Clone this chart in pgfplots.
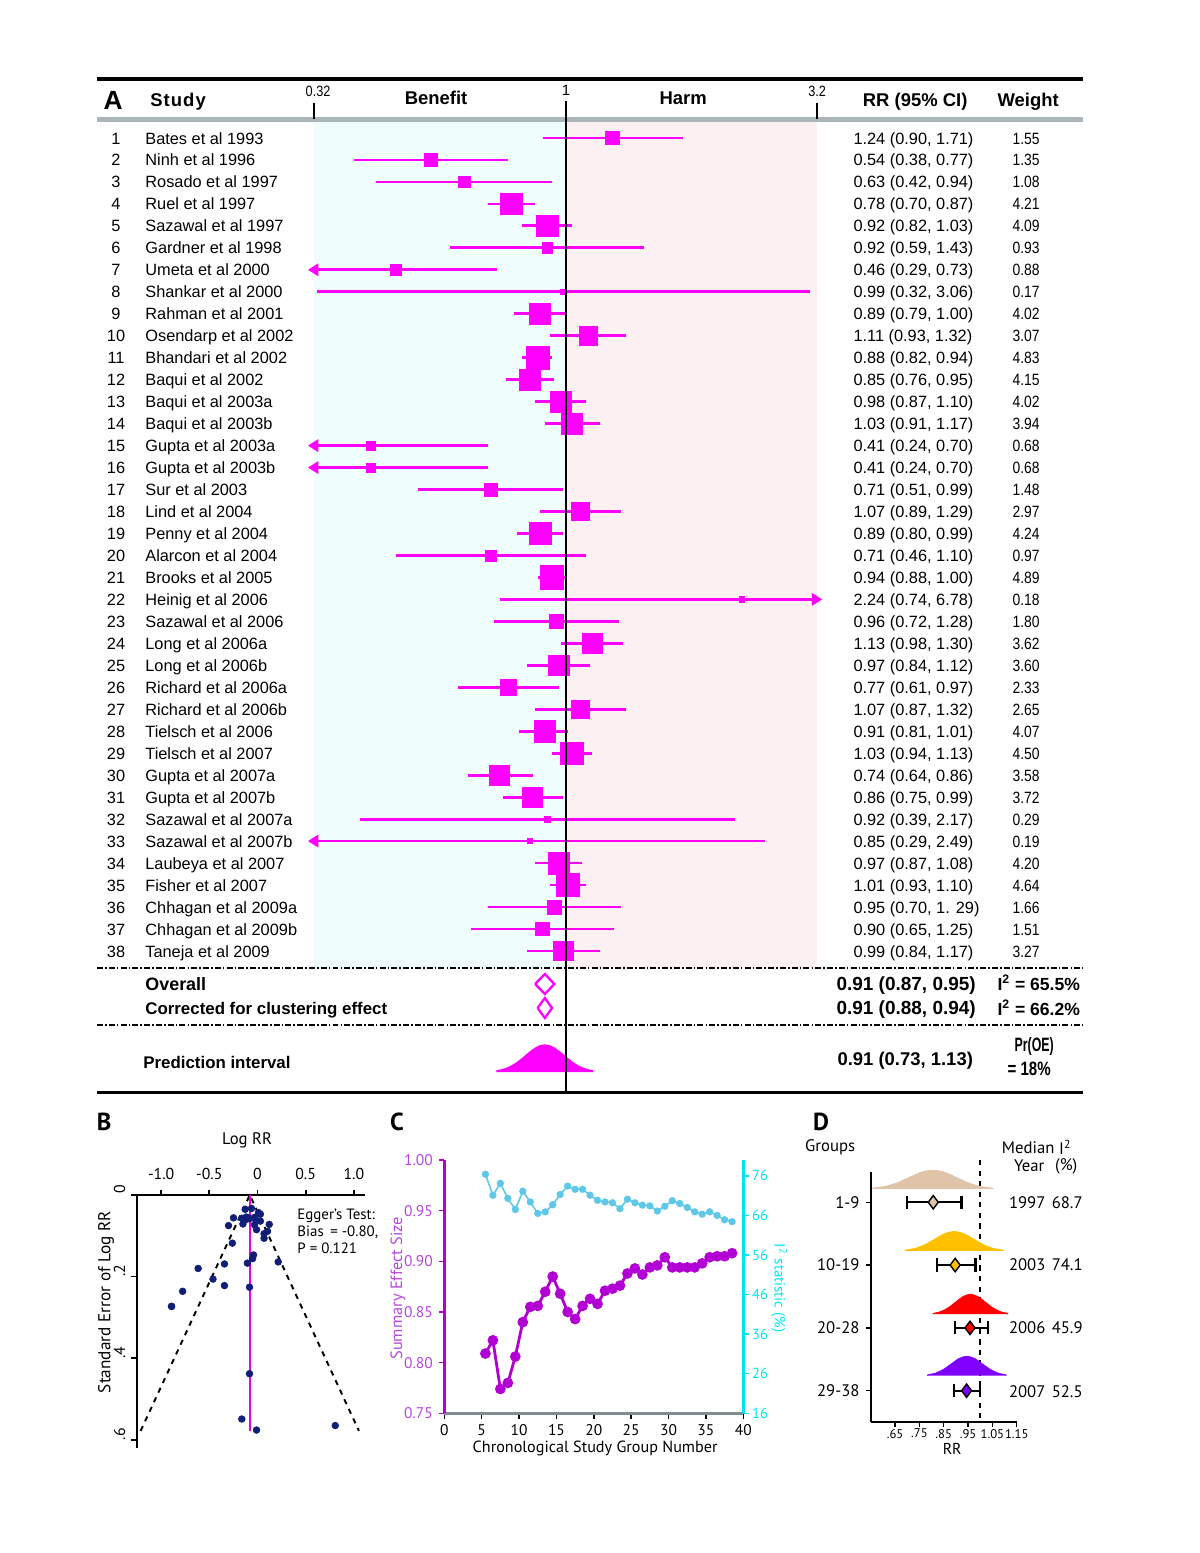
\documentclass[border=0pt]{standalone}
\usepackage{fontspec}
\setmainfont{Liberation Sans}
\newfontfamily\pt{PT Sans}
\usepackage{graphicx}
\usepackage{pgfplots}
\pgfplotsset{compat=1.18}
\usepackage{pgfplotstable}
\usetikzlibrary{arrows.meta}

\definecolor{mag}{RGB}{255,0,255}
\definecolor{cybg}{RGB}{240,253,253}
\definecolor{pkbg}{RGB}{253,240,242}
\definecolor{greyline}{RGB}{170,182,186}
\definecolor{navy}{RGB}{16,30,120}
\definecolor{pinkB}{RGB}{230,0,230}
\definecolor{purpC}{RGB}{178,0,212}
\definecolor{purpCt}{RGB}{184,70,222}
\definecolor{cyanL}{RGB}{95,200,232}
\definecolor{cyanA}{RGB}{0,230,240}
\definecolor{greyC}{RGB}{128,140,142}
\definecolor{tanD}{RGB}{224,196,170}
\definecolor{goldD}{RGB}{255,192,0}
\definecolor{redD}{RGB}{255,0,0}
\definecolor{violD}{RGB}{128,0,255}

\newcommand{\fA}{\fontsize{9.3}{11}\selectfont}
\newcommand{\fH}{\bfseries\fontsize{10.5}{12}\selectfont}

\pgfplotstableread{
row rr lo hi w
1 1.24 0.90 1.71 1.55
2 0.54 0.38 0.77 1.35
3 0.63 0.42 0.94 1.08
4 0.78 0.70 0.87 4.21
5 0.92 0.82 1.03 4.09
6 0.92 0.59 1.43 0.93
7 0.46 0.29 0.73 0.88
8 0.99 0.32 3.06 0.17
9 0.89 0.79 1.00 4.02
10 1.11 0.93 1.32 3.07
11 0.88 0.82 0.94 4.83
12 0.85 0.76 0.95 4.15
13 0.98 0.87 1.10 4.02
14 1.03 0.91 1.17 3.94
15 0.41 0.24 0.70 0.68
16 0.41 0.24 0.70 0.68
17 0.71 0.51 0.99 1.48
18 1.07 0.89 1.29 2.97
19 0.89 0.80 0.99 4.24
20 0.71 0.46 1.10 0.97
21 0.94 0.88 1.00 4.89
22 2.24 0.74 6.78 0.18
23 0.96 0.72 1.28 1.80
24 1.13 0.98 1.30 3.62
25 0.97 0.84 1.12 3.60
26 0.77 0.61 0.97 2.33
27 1.07 0.87 1.32 2.65
28 0.91 0.81 1.01 4.07
29 1.03 0.94 1.13 4.50
30 0.74 0.64 0.86 3.58
31 0.86 0.75 0.99 3.72
32 0.92 0.39 2.17 0.29
33 0.85 0.29 2.49 0.19
34 0.97 0.87 1.08 4.20
35 1.01 0.93 1.10 4.64
36 0.95 0.70 1.29 1.66
37 0.90 0.65 1.25 1.51
38 0.99 0.84 1.17 3.27
}\forestdata

\pgfplotstableread{
lnrr se
0.215 -0.164
-0.616 -0.180
-0.462 -0.206
-0.249 -0.056
-0.083 -0.058
-0.083 -0.226
-0.777 -0.236
-0.010 -0.576
-0.117 -0.060
0.104 -0.089
-0.128 -0.035
-0.163 -0.057
-0.020 -0.060
0.030 -0.064
-0.892 -0.273
-0.892 -0.273
-0.343 -0.169
0.068 -0.095
-0.117 -0.054
-0.343 -0.222
-0.062 -0.033
0.807 -0.565
-0.041 -0.147
0.122 -0.072
-0.031 -0.073
-0.261 -0.118
0.068 -0.106
-0.094 -0.056
0.030 -0.047
-0.301 -0.075
-0.151 -0.071
-0.083 -0.438
-0.163 -0.549
-0.031 -0.055
0.010 -0.043
-0.051 -0.156
-0.105 -0.167
-0.010 -0.085
}\funneldata

\pgfplotstableread{
x es i2
5.5 0.809 76.4
6.5 0.822 71.1
7.5 0.774 74.1
8.5 0.780 70.3
9.5 0.806 67.5
10.5 0.840 72.1
11.5 0.855 69.4
12.5 0.856 66.5
13.5 0.870 66.9
14.5 0.885 68.7
15.5 0.868 71.3
16.5 0.850 73.4
17.5 0.843 72.6
18.5 0.856 72.6
19.5 0.863 71.1
20.5 0.858 69.8
21.5 0.871 69.4
22.5 0.873 69.2
23.5 0.876 67.7
24.5 0.888 70.1
25.5 0.893 69.2
26.5 0.887 68.6
27.5 0.894 68.4
28.5 0.896 67.1
29.5 0.904 68.3
30.5 0.894 69.7
31.5 0.894 69.0
32.5 0.894 68.0
33.5 0.894 66.9
34.5 0.898 66.3
35.5 0.904 66.9
36.5 0.905 66.0
37.5 0.905 64.9
38.5 0.908 64.4
}\cumdata

\begin{document}
\begin{tikzpicture}
\path[use as bounding box] (0,0) rectangle (24cm,31.06cm);

% ---------- backgrounds of panel A (pixel coordinates)
\begin{scope}[x=0.02cm,y=-0.02cm,shift={(0,31.06cm)}]
\fill[cybg] (314,121) rectangle (565.5,968);
\fill[pkbg] (565.5,121) rectangle (817,968);
\end{scope}

% ---------- Panel A: forest plot
\begin{axis}[at={(6.28cm,9.22cm)}, anchor=south west, scale only axis,
  width=10.06cm, height=20.28cm, xmode=log, xmin=0.31623, xmax=3.1623,
  ymin=-1.731, ymax=44.42, y dir=reverse, hide axis, clip=false]
\addplot[mag, line width=1.6pt, unbounded coords=jump] coordinates {
(0.90,1) (1.71,1) (nan,nan)
(0.38,2) (0.77,2) (nan,nan)
(0.42,3) (0.94,3) (nan,nan)
(0.70,4) (0.87,4) (nan,nan)
(0.82,5) (1.03,5) (nan,nan)
(0.59,6) (1.43,6) (nan,nan)
(0.32,8) (3.06,8) (nan,nan)
(0.79,9) (1.00,9) (nan,nan)
(0.93,10) (1.32,10) (nan,nan)
(0.82,11) (0.94,11) (nan,nan)
(0.76,12) (0.95,12) (nan,nan)
(0.87,13) (1.10,13) (nan,nan)
(0.91,14) (1.17,14) (nan,nan)
(0.51,17) (0.99,17) (nan,nan)
(0.89,18) (1.29,18) (nan,nan)
(0.80,19) (0.99,19) (nan,nan)
(0.46,20) (1.10,20) (nan,nan)
(0.88,21) (1.00,21) (nan,nan)
(0.72,23) (1.28,23) (nan,nan)
(0.98,24) (1.30,24) (nan,nan)
(0.84,25) (1.12,25) (nan,nan)
(0.61,26) (0.97,26) (nan,nan)
(0.87,27) (1.32,27) (nan,nan)
(0.81,28) (1.01,28) (nan,nan)
(0.94,29) (1.13,29) (nan,nan)
(0.64,30) (0.86,30) (nan,nan)
(0.75,31) (0.99,31) (nan,nan)
(0.39,32) (2.17,32) (nan,nan)
(0.87,34) (1.08,34) (nan,nan)
(0.93,35) (1.10,35) (nan,nan)
(0.70,36) (1.29,36) (nan,nan)
(0.65,37) (1.25,37) (nan,nan)
(0.84,38) (1.17,38)
};
\addplot[mag, line width=1.6pt, -{Triangle[length=6pt,width=7pt]}] coordinates {(0.73,7) (0.3075,7)};
\addplot[mag, line width=1.6pt, -{Triangle[length=6pt,width=7pt]}] coordinates {(0.70,15) (0.3075,15)};
\addplot[mag, line width=1.6pt, -{Triangle[length=6pt,width=7pt]}] coordinates {(0.70,16) (0.3075,16)};
\addplot[mag, line width=1.6pt, -{Triangle[length=6pt,width=7pt]}] coordinates {(0.74,22) (3.24,22)};
\addplot[mag, line width=1.6pt, -{Triangle[length=6pt,width=7pt]}] coordinates {(2.49,33) (0.3075,33)};
\addplot[scatter, only marks, mark=square*,
  scatter/use mapped color={draw=mag,fill=mag},
  visualization depends on={0.3+2.85*sqrt(\thisrow{w}) \as \ms},
  scatter/@pre marker code/.append style={/tikz/mark size=\ms pt, /tikz/draw=mag, /tikz/fill=mag}]
  table[x=rr,y=row] {\forestdata};
% summary diamonds
\addplot[mag, line width=1.3pt] coordinates {(0.87,39.505) (0.91,39.05) (0.95,39.505) (0.91,39.96) (0.87,39.505)};
\addplot[mag, line width=1.3pt] coordinates {(0.88,40.597) (0.91,40.142) (0.94,40.597) (0.91,41.052) (0.88,40.597)};
% prediction interval density
\addplot[fill=mag, draw=mag, line width=0.8pt] coordinates {
(0.7311,43.51) (0.7311,43.456) (0.7472,43.412) (0.7638,43.344) (0.7807,43.244)
(0.7980,43.111) (0.8157,42.947) (0.8337,42.764) (0.8522,42.582) (0.8710,42.425)
(0.8903,42.318) (0.9099,42.28) (0.9300,42.318) (0.9506,42.425) (0.9716,42.582)
(0.9931,42.764) (1.0151,42.947) (1.0375,43.111) (1.0605,43.244) (1.0839,43.344)
(1.1079,43.412) (1.1324,43.456) (1.1324,43.51)};
\end{axis}

% ---------- Panel B: funnel plot
\begin{axis}[at={(2.734cm,2.10cm)}, anchor=south west, scale only axis,
  width=4.566cm, height=5.06cm, xmin=-1.254, xmax=1.116, ymin=-0.62, ymax=0,
  axis x line=top, axis y line=left, axis line style={-, line width=1.3pt},
  xtick={-1,-0.5,0,0.5,1}, xticklabels={-1.0,-0.5,0,0.5,1.0},
  ytick={0,-0.2,-0.4,-0.6}, yticklabels={0,.2,.4,.6},
  yticklabel style={rotate=90, anchor=south, xshift=3.2pt},
  xticklabel style={yshift=2pt},
  tick align=outside, major tick length=3pt, tick style={black, line width=1pt},
  tick label style={font=\pt\fontsize{9}{10}\selectfont},
  clip=false]
\addplot[black, dashed, line width=1.1pt] coordinates {(-1.213,-0.578) (-0.08,0) (1.053,-0.578)};
\addplot[pinkB, line width=1.1pt] coordinates {(-0.08,0) (-0.08,-0.578)};
\addplot[only marks, mark=*, mark size=1.9pt, mark options={draw=navy, fill=navy}] table[x=lnrr, y=se] {\funneldata};
\end{axis}

% ---------- Panel C: cumulative meta-analysis (left axis)
\begin{axis}[at={(8.886cm,2.794cm)}, anchor=south west, scale only axis,
  width=5.98cm, height=5.066cm, xmin=0, xmax=40, ymin=0.75, ymax=1.0,
  axis x line=bottom, axis y line=left, axis line style={-},
  x axis line style={line width=2pt, draw=greyC},
  y axis line style={line width=2pt, draw=purpC},
  xtick={0,5,10,15,20,25,30,35,40}, ytick={0.75,0.8,0.85,0.9,0.95,1.0},
  tick align=outside, major tick length=3pt,
  xtick style={black, line width=0.8pt}, ytick style={purpC, line width=0.8pt},
  /pgf/number format/assume math mode=true,
  tick label style={font=\pt\fontsize{8.8}{10}\selectfont},
  yticklabel style={text=purpCt, /pgf/number format/.cd, fixed, fixed zerofill, precision=2},
  clip=false]
\addplot[purpC, line width=1.6pt, mark=*, mark size=2.2pt, mark options={fill=purpC}] table[x=x, y=es] {\cumdata};
\end{axis}
% Panel C right axis
\begin{axis}[at={(8.886cm,2.794cm)}, anchor=south west, scale only axis,
  width=5.98cm, height=5.066cm, xmin=0, xmax=40, ymin=16, ymax=80,
  axis x line=none, axis y line=right, axis line style={-},
  y axis line style={line width=2pt, draw=cyanA},
  ytick={16,26,36,46,56,66,76},
  tick align=outside, major tick length=3pt, ytick style={cyanA, line width=0.8pt},
  /pgf/number format/assume math mode=true,
  tick label style={font=\pt\fontsize{8.3}{10}\selectfont, text=cyanA},
  yticklabel style={xshift=-1.5pt},
  clip=false]
\addplot[cyanL, line width=0.9pt, mark=*, mark size=1.6pt, mark options={fill=cyanL}] table[x=x, y=i2] {\cumdata};
\end{axis}

% ---------- Panel D: subgroup forest
\begin{axis}[at={(17.42cm,2.626cm)}, anchor=south west, scale only axis,
  width=2.914cm, height=5.0cm, xmin=0.551, xmax=1.15, ymin=-4.494, ymax=-0.513,
  axis x line=bottom, axis y line=left, axis line style={-, line width=1.2pt},
  xtick={0.65,0.75,0.85,0.95,1.05,1.15}, xticklabels={.65,.75,.85,.95,1.05,1.15},
  ytick={-1,-2,-3,-4}, yticklabels={1-9,10-19,20-28,29-38},
  tick align=outside, major tick length=3pt, tick style={black, line width=0.8pt},
  xticklabel style={font=\pt\fontsize{7.2}{9}\selectfont, inner sep=1pt},
  yticklabel style={font=\pt\fontsize{9.5}{11}\selectfont},
  clip=false]
\addplot[black, dashed, line width=1pt] coordinates {(1.0,-0.327) (1.0,-4.494)};
\addplot[fill=tanD, draw=tanD, smooth] coordinates {(0.560,-0.788) (0.560,-0.775) (0.609,-0.747) (0.658,-0.691) (0.707,-0.606) (0.756,-0.523) (0.805,-0.488) (0.854,-0.523) (0.903,-0.606) (0.952,-0.691) (1.001,-0.747) (1.050,-0.775) (1.050,-0.788)};
\addplot[fill=goldD, draw=goldD, smooth] coordinates {(0.693,-1.775) (0.693,-1.761) (0.733,-1.733) (0.773,-1.674) (0.813,-1.587) (0.853,-1.501) (0.893,-1.465) (0.933,-1.501) (0.973,-1.587) (1.013,-1.674) (1.053,-1.733) (1.093,-1.761) (1.093,-1.775)};
\addplot[fill=redD, draw=redD, smooth] coordinates {(0.8075,-2.783) (0.8075,-2.769) (0.838,-2.740) (0.8685,-2.679) (0.899,-2.589) (0.9295,-2.501) (0.96,-2.463) (0.9905,-2.501) (1.021,-2.589) (1.0515,-2.679) (1.082,-2.740) (1.1125,-2.769) (1.1125,-2.783)};
\addplot[fill=violD, draw=violD, smooth] coordinates {(0.785,-3.761) (0.785,-3.747) (0.817,-3.719) (0.849,-3.660) (0.881,-3.573) (0.913,-3.487) (0.945,-3.451) (0.977,-3.487) (1.009,-3.573) (1.041,-3.660) (1.073,-3.719) (1.105,-3.747) (1.105,-3.761)};
\addplot[black, line width=1.3pt, {Bar[width=7.5pt]}-{Bar[width=7.5pt]}] coordinates {(0.694,-1) (0.928,-1)};
\addplot[black, line width=1.3pt, {Bar[width=7.5pt]}-{Bar[width=7.5pt]}] coordinates {(0.817,-2) (0.985,-2)};
\addplot[black, line width=1.3pt, {Bar[width=7.5pt]}-{Bar[width=7.5pt]}] coordinates {(0.893,-3) (1.038,-3)};
\addplot[black, line width=1.3pt, {Bar[width=7.5pt]}-{Bar[width=7.5pt]}] coordinates {(0.888,-4) (1.004,-4)};
\addplot[only marks, mark=diamond*, mark size=3.8pt, mark options={fill=tanD, draw=black, line width=0.8pt}] coordinates {(0.807,-1)};
\addplot[only marks, mark=diamond*, mark size=3.8pt, mark options={fill=goldD, draw=black, line width=0.8pt}] coordinates {(0.897,-2)};
\addplot[only marks, mark=diamond*, mark size=3.8pt, mark options={fill=redD, draw=black, line width=0.8pt}] coordinates {(0.958,-3)};
\addplot[only marks, mark=diamond*, mark size=3.8pt, mark options={fill=violD, draw=black, line width=0.8pt}] coordinates {(0.944,-4)};
\end{axis}

% ---------- text and rules (pixel coordinates)
\begin{scope}[x=0.02cm,y=-0.02cm,shift={(0,31.06cm)}, every node/.append style={inner sep=0pt}]
% panel A rules
\draw[line width=1.8pt] (97,79) -- (1083,79);
\draw[line width=2.8pt, greyline] (97,119.5) -- (1083,119.5);
\draw[line width=0.8pt, dash pattern=on 3.4pt off 1.2pt on 0.9pt off 1.2pt] (97,968) -- (1083,968);
\draw[line width=0.8pt, dash pattern=on 3.4pt off 1.2pt on 0.9pt off 1.2pt] (97,1025) -- (1083,1025);
\draw[line width=1.6pt] (97,1092) -- (1083,1092);
\draw[line width=1.1pt] (565.5,101) -- (565.5,1092);
\draw[line width=1.2pt] (314,103) -- (314,119);
\draw[line width=1.2pt] (817,103) -- (817,119);
% panel A header
\node[font=\bfseries\fontsize{15}{16}\selectfont] at (113,100) {A};
\node[font=\fH, anchor=base] at (178,106) {S\hspace{0.6pt}t\hspace{0.6pt}u\hspace{0.6pt}d\hspace{0.6pt}y};
\node[font=\fH, anchor=base] at (436,104) {Benefit};
\node[font=\fH, anchor=base] at (683,104) {Harm};
\node[font=\fH, anchor=base] at (915,106) {RR (95\% CI)};
\node[font=\fH, anchor=base] at (1028,106) {Weight};
\node[font=\fontsize{8.5}{10}\selectfont, anchor=base] at (318,97) {\scalebox{0.85}[1]{0.32}};
\node[font=\fontsize{8.5}{10}\selectfont, anchor=base] at (566,96) {1};
\node[font=\fontsize{8.5}{10}\selectfont, anchor=base] at (817,97) {\scalebox{0.85}[1]{3.2}};
% panel A rows
\foreach \i/\n/\c/\w in {
1/Bates et al 1993/{1.24 (0.90, 1.71)}/1.55,
2/Ninh et al 1996/{0.54 (0.38, 0.77)}/1.35,
3/Rosado et al 1997/{0.63 (0.42, 0.94)}/1.08,
4/Ruel et al 1997/{0.78 (0.70, 0.87)}/4.21,
5/Sazawal et al 1997/{0.92 (0.82, 1.03)}/4.09,
6/Gardner et al 1998/{0.92 (0.59, 1.43)}/0.93,
7/Umeta et al 2000/{0.46 (0.29, 0.73)}/0.88,
8/Shankar et al 2000/{0.99 (0.32, 3.06)}/0.17,
9/Rahman et al 2001/{0.89 (0.79, 1.00)}/4.02,
10/Osendarp et al 2002/{1.11 (0.93, 1.32)}/3.07,
11/Bhandari et al 2002/{0.88 (0.82, 0.94)}/4.83,
12/Baqui et al 2002/{0.85 (0.76, 0.95)}/4.15,
13/Baqui et al 2003a/{0.98 (0.87, 1.10)}/4.02,
14/Baqui et al 2003b/{1.03 (0.91, 1.17)}/3.94,
15/Gupta et al 2003a/{0.41 (0.24, 0.70)}/0.68,
16/Gupta et al 2003b/{0.41 (0.24, 0.70)}/0.68,
17/Sur et al 2003/{0.71 (0.51, 0.99)}/1.48,
18/Lind et al 2004/{1.07 (0.89, 1.29)}/2.97,
19/Penny et al 2004/{0.89 (0.80, 0.99)}/4.24,
20/Alarcon et al 2004/{0.71 (0.46, 1.10)}/0.97,
21/Brooks et al 2005/{0.94 (0.88, 1.00)}/4.89,
22/Heinig et al 2006/{2.24 (0.74, 6.78)}/0.18,
23/Sazawal et al 2006/{0.96 (0.72, 1.28)}/1.80,
24/Long et al 2006a/{1.13 (0.98, 1.30)}/3.62,
25/Long et al 2006b/{0.97 (0.84, 1.12)}/3.60,
26/Richard et al 2006a/{0.77 (0.61, 0.97)}/2.33,
27/Richard et al 2006b/{1.07 (0.87, 1.32)}/2.65,
28/Tielsch et al 2006/{0.91 (0.81, 1.01)}/4.07,
29/Tielsch et al 2007/{1.03 (0.94, 1.13)}/4.50,
30/Gupta et al 2007a/{0.74 (0.64, 0.86)}/3.58,
31/Gupta et al 2007b/{0.86 (0.75, 0.99)}/3.72,
32/Sazawal et al 2007a/{0.92 (0.39, 2.17)}/0.29,
33/Sazawal et al 2007b/{0.85 (0.29, 2.49)}/0.19,
34/Laubeya et al 2007/{0.97 (0.87, 1.08)}/4.20,
35/Fisher et al 2007/{1.01 (0.93, 1.10)}/4.64,
36/Chhagan et al 2009a/{0.95 (0.70, 1. 29)}/1.66,
37/Chhagan et al 2009b/{0.90 (0.65, 1.25)}/1.51,
38/Taneja et al 2009/{0.99 (0.84, 1.17)}/3.27}{
  \pgfmathsetmacro\yy{144+(\i-1)*21.97}
  \node[font=\fA, anchor=base] at (116,\yy) {\i};
  \node[font=\fA, anchor=base west] at (145,\yy) {\n};
  \node[font=\fA, anchor=base west] at (853,\yy) {\c};
  \node[font=\fA, anchor=base west] at (1012,\yy) {\scalebox{0.85}[1]{\w}};
}
% panel A summary rows
\node[font=\bfseries\fontsize{10.2}{12}\selectfont, anchor=base west] at (145,990) {Overall};
\node[font=\bfseries\fontsize{9.6}{12}\selectfont, anchor=base west] at (145,1014) {Corrected for clustering effect};
\node[font=\bfseries\fontsize{9.6}{12}\selectfont, anchor=base west] at (143,1068) {Prediction interval};
\node[font=\bfseries\fontsize{10.8}{12}\selectfont, anchor=base west] at (836,990) {0.91 (0.87, 0.95)};
\node[font=\bfseries\fontsize{10.8}{12}\selectfont, anchor=base west] at (836,1014) {0.91 (0.88, 0.94)};
\node[font=\bfseries\fontsize{10.5}{12}\selectfont, anchor=base west] at (837,1065) {0.91 (0.73, 1.13)};
\node[font=\bfseries\fontsize{10}{12}\selectfont, anchor=base west] at (997,990) {I\textsuperscript{2} = 65.5\%};
\node[font=\bfseries\fontsize{10}{12}\selectfont, anchor=base west] at (997,1015) {I\textsuperscript{2} = 66.2\%};
\node[font=\bfseries\fontsize{11}{12}\selectfont, anchor=base west] at (1014,1051) {\scalebox{0.64}[1]{Pr(OE)}};
\node[font=\bfseries\fontsize{11}{12}\selectfont, anchor=base west] at (1007,1075) {\scalebox{0.78}[1]{= 18\%}};

% panel B labels
\node[font=\pt\bfseries\fontsize{14}{15}\selectfont] at (104,1122) {B};
\node[font=\pt\fontsize{9.5}{11}\selectfont] at (247,1140) {Log RR};
\node[font=\pt\fontsize{9.8}{11}\selectfont, rotate=90] at (106,1302) {Standard Error of Log RR};
\node[font=\pt\fontsize{8.5}{10}\selectfont, anchor=west] at (297,1216) {Egger’s Test:};
\node[font=\pt\fontsize{8.5}{10}\selectfont, anchor=west] at (297,1232) {Bias\, = -0.80,};
\node[font=\pt\fontsize{8.5}{10}\selectfont, anchor=west] at (297,1248) {P = 0.121};

% panel C labels
\node[font=\pt\bfseries\fontsize{14}{15}\selectfont] at (397,1122) {C};
\node[font=\pt\fontsize{9.3}{11}\selectfont, rotate=90, text=purpCt] at (398,1288) {Summary Effect Size};
\node[font=\pt\fontsize{8.5}{10}\selectfont, rotate=-90, text=cyanA] at (779,1288) {I\textsuperscript{2} statistic (\%)};
\node[font=\pt\fontsize{9.2}{11}\selectfont] at (595,1448) {Chronological Study Group Number};

% panel D labels
\node[font=\pt\bfseries\fontsize{14}{15}\selectfont] at (821,1122) {D};
\node[font=\pt\fontsize{9.5}{11}\selectfont] at (830,1147) {Groups};
\node[font=\pt\fontsize{9.5}{11}\selectfont] at (1028,1147) {Median};
\node[font=\pt\fontsize{9.5}{11}\selectfont] at (1065,1147) {I\textsuperscript{2}};
\node[font=\pt\fontsize{9.5}{11}\selectfont] at (1029,1166) {Year};
\node[font=\pt\fontsize{9.5}{11}\selectfont] at (1066,1166) {(\%)};
\node[font=\pt\fontsize{9.5}{11}\selectfont] at (1027,1202) {1997};
\node[font=\pt\fontsize{9.5}{11}\selectfont] at (1067,1202) {68.7};
\node[font=\pt\fontsize{9.5}{11}\selectfont] at (1027,1264) {2003};
\node[font=\pt\fontsize{9.5}{11}\selectfont] at (1067,1264) {74.1};
\node[font=\pt\fontsize{9.5}{11}\selectfont] at (1027,1327) {2006};
\node[font=\pt\fontsize{9.5}{11}\selectfont] at (1067,1327) {45.9};
\node[font=\pt\fontsize{9.5}{11}\selectfont] at (1027,1391) {2007};
\node[font=\pt\fontsize{9.5}{11}\selectfont] at (1067,1391) {52.5};
\node[font=\pt\fontsize{9}{10}\selectfont] at (952,1449) {RR};
\end{scope}
\end{tikzpicture}
\end{document}
